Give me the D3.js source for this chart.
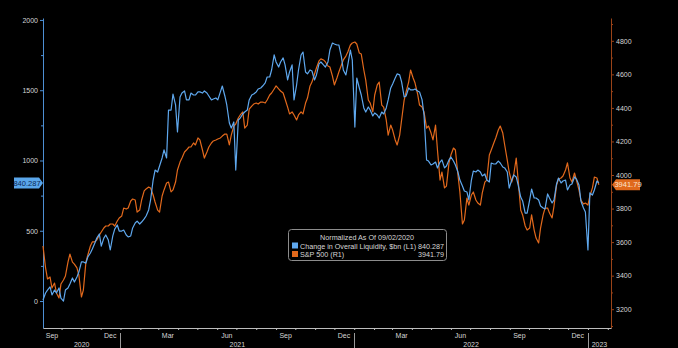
<!DOCTYPE html>
<html><head><meta charset="utf-8">
<script src="https://cdn.jsdelivr.net/npm/d3@7"></script>
<style>
html,body{margin:0;padding:0;background:#000;overflow:hidden;}
svg{display:block;}
text{font-family:"Liberation Sans",Arial,sans-serif;}
</style>
</head><body>
<svg id="c" width="678" height="348"></svg>
<script>
// ---------- data ----------
const startDate = new Date(2020, 8, 2);   // normalized as of 09/02/2020
const endDate = new Date(2023, 0, 19);
const axisEnd = new Date(2023, 1, 6);
// observations twice a week (Wednesdays and Sundays)
const obsDates = [...d3.timeWednesday.range(startDate, endDate), ...d3.timeSunday.range(startDate, endDate)]
  .sort((a, b) => a - b);

const liquidity = [
  7,57, 78,100, 43,78, 57,93, 21,0, 78,93, 121,164, 135,171, 206,278, 278,270,
  313,342, 370,413, 448,477, 391,448, 470,434, 363,463, 512,541, 498,498, 505,470, 456,463,
  520,555, 569,548, 562,584, 605,648, 719,861, 932,918, 961,1018, 1075,1018, 1359,1359, 1473,1395,
  1203,1452, 1480,1495, 1431,1431, 1480,1466, 1466,1488, 1488,1480, 1495,1480, 1459,1431, 1438,1445, 1431,1488,
  1530,1459, 1395,1267, 1231,1274, 932,1288, 1302,1331, 1345,1359, 1431,1466, 1473,1488, 1509,1516, 1530,1552,
  1594,1594, 1644,1751, 1701,1665, 1701,1730, 1680,1573, 1630,1680, 1431,1537, 1644,1751, 1772,1630, 1616,1644,
  1637,1573, 1609,1687, 1701,1680, 1665,1701, 1786,1836, 1829,1822, 1822,1737, 1644,1609, 1680,1786, 1715,1238,
  1587,1516, 1466,1374, 1345,1381, 1359,1317, 1338,1324, 1302,1345, 1331,1374, 1431,1516, 1544,1587, 1616,1609,
  1559,1452, 1459,1516, 1502,1502, 1509,1495, 1488,1431, 1324,1004, 996,968, 975,989, 947,989, 1004,947,
  961,1004, 1025,996, 968,918, 861,819, 783,776, 719,861, 925,918, 932,918, 890,904, 861,847,
  982,975, 975,996, 982,954, 947,918, 804,861, 897,883, 826,740, 712,626, 626,719, 797,733,
  733,719, 676,662, 655,762, 733,698, 719,833, 875,840, 854,861, 790,826, 833,883, 868,826,
  712,662, 633,363, 769,754, 790,854, 840.287
];
const spx = [
  3577,3446, 3380,3392, 3326,3356, 3297,3267, 3350,3374, 3398,3481, 3529,3481, 3469,3446, 3404,3273, 3314,3481,
  3523,3577, 3601,3601, 3613,3642, 3660,3684, 3696,3696, 3708,3708, 3696,3726, 3744,3756, 3803,3797, 3803,3845,
  3857,3851, 3779,3791, 3851,3905, 3917,3928, 3923,3881, 3839,3791, 3779,3875, 3911,3952, 3958,3899, 3911,3958,
  4030,4077, 4101,4137, 4149,4167, 4167,4191, 4179,4221, 4209,4149, 4101,4137, 4167,4191, 4203,4209, 4215,4221,
  4232,4244, 4244,4179, 4238,4292, 4304,4340, 4358,4376, 4280,4298, 4393,4411, 4423,4429, 4423,4435, 4435,4429,
  4447,4477, 4489,4513, 4531,4513, 4501,4489, 4453,4405, 4364,4376, 4358,4328, 4358,4376, 4364,4429, 4459,4531,
  4554,4602, 4638,4680, 4692,4686, 4674,4650, 4644,4590, 4537,4578, 4614,4656, 4686,4709, 4733,4775, 4787,4793,
  4781,4727, 4721,4626, 4566,4447, 4429,4376, 4477,4537, 4554,4417, 4405,4328, 4238,4298, 4268,4209, 4179,4238,
  4328,4447, 4495,4554, 4626,4578, 4548,4483, 4417,4405, 4376,4280, 4292,4250, 4209,4298, 4149,3970, 4018,3923,
  3934,4072, 4119,4161, 4149,4000, 3899,3708, 3732,3863, 3821,3881, 3899,3851, 3833,3821, 3893,3958, 3970,4119,
  4149,4191, 4221,4268, 4292,4250, 4179,4089, 4018,3958, 4000,4101, 3970,3791, 3762,3696, 3672,3684, 3762,3672,
  3624,3595, 3684,3762, 3803,3803, 3773,3744, 3815,3940, 3976,3982, 3994,4030, 4072,3982, 3958,4012, 3970,3911,
  3851,3827, 3833,3821, 3875,3923, 3988,3982, 3941.79
];
const liquidityLast = "840.287";
const spxLast = "3941.79";

const leftTicks = [0, 500, 1000, 1500, 2000];
const leftMinor = [250, 750, 1250, 1750];
const rightTicks = [3200, 3400, 3600, 3800, 4000, 4200, 4400, 4600, 4800];
const rightMinor = [3100, 3300, 3500, 3700, 3900, 4100, 4300, 4500, 4700, 4900];

const monthLabelText = ["Sep","Dec","Mar","Jun","Sep","Dec","Mar","Jun","Sep","Dec"];
const monthLabelDates = ["2020-09-16","2020-12-16","2021-03-16","2021-06-16","2021-09-16",
                         "2021-12-16","2022-03-16","2022-06-16","2022-09-16","2022-12-16"];
const yearText = ["2020","2021","2022","2023"];
const yearStarts = ["2021-01-01","2022-01-01","2023-01-01"];

const legendTitle = "Normalized As Of 09/02/2020";
const seriesNames = ["Change in Overall Liquidity, $bn (L1)", "S&P 500 (R1)"];

// ---------- style ----------
const BLUE = "#5fa8ee", ORANGE = "#e2691c";
const LEFT_AXIS = "#4d8fd4", RIGHT_AXIS = "#9a4318", TXT = "#d6d6d6";

// ---------- scales ----------
const svg = d3.select("#c");
const X0 = 43, X1 = 611, Y0 = 18, Y1 = 328;
const parse = d3.timeParse("%Y-%m-%d");
const x = d3.scaleTime().domain([startDate, axisEnd]).range([X0, X1]);
const yL = d3.scaleLinear().domain([-192, 2014]).range([Y1, Y0]);
const yR = d3.scaleLinear().domain([3088, 4936]).range([Y1, Y0]);

svg.append("rect").attr("width",678).attr("height",348).attr("fill","#000");

// ---------- axes ----------
function styleAxis(g, col, txtCol){
  g.select(".domain").attr("stroke", col).attr("stroke-width",1);
  g.selectAll(".tick line").attr("stroke", col);
  g.selectAll(".tick text").attr("fill", txtCol).attr("font-size","7px")
   .attr("font-family",'"Liberation Sans",Arial,sans-serif');
}
const gL = svg.append("g").attr("transform",`translate(${X0},0)`)
  .call(d3.axisLeft(yL).tickValues(leftTicks).tickSize(3).tickPadding(2).tickSizeOuter(0).tickFormat(d3.format("d")));
styleAxis(gL, LEFT_AXIS, TXT);
svg.append("g").attr("transform",`translate(${X0},0)`)
  .call(d3.axisLeft(yL).tickValues(leftMinor).tickSize(2).tickFormat(""))
  .call(g=>{g.select(".domain").remove(); g.selectAll("line").attr("stroke",LEFT_AXIS);});

const gR = svg.append("g").attr("transform",`translate(${X1},0)`)
  .call(d3.axisRight(yR).tickValues(rightTicks).tickSize(3).tickPadding(2).tickSizeOuter(0).tickFormat(d3.format("d")));
styleAxis(gR, RIGHT_AXIS, TXT);
svg.append("g").attr("transform",`translate(${X1},0)`)
  .call(d3.axisRight(yR).tickValues(rightMinor).tickSize(2).tickFormat(""))
  .call(g=>{g.select(".domain").remove(); g.selectAll("line").attr("stroke",RIGHT_AXIS);});

const monthStarts = d3.timeMonth.range(new Date(2020,9,1), axisEnd);
const gB = svg.append("g").attr("transform",`translate(0,${Y1})`)
  .call(d3.axisBottom(x).tickValues(monthStarts).tickSize(2).tickSizeOuter(0).tickFormat(""));
gB.select(".domain").attr("stroke","#bdbdbd");
gB.selectAll(".tick line").attr("stroke","#bdbdbd");

svg.append("g").selectAll("text").data(monthLabelText).join("text")
  .attr("x",(d,i)=>x(parse(monthLabelDates[i]))).attr("y",338)
  .attr("text-anchor","middle").attr("fill",TXT).attr("font-size","7px").text(d=>d);

const yb = [startDate, ...yearStarts.map(parse), axisEnd];
svg.append("g").selectAll("text").data(yearText).join("text")
  .attr("x",(d,i)=>(x(yb[i])+x(yb[i+1]))/2).attr("y",347)
  .attr("text-anchor","middle").attr("fill",TXT).attr("font-size","7px").text(d=>d);
svg.append("g").selectAll("line").data(yearStarts).join("line")
  .attr("x1",d=>Math.round(x(parse(d)))+0.5).attr("x2",d=>Math.round(x(parse(d)))+0.5)
  .attr("y1",333).attr("y2",348).attr("stroke","#9a9a9a");

// ---------- lines ----------
const lineR = d3.line().x((d,i)=>x(obsDates[i])).y(d=>yR(d));
const lineL = d3.line().x((d,i)=>x(obsDates[i])).y(d=>yL(d));
svg.append("path").datum(spx).attr("d",lineR).attr("fill","none")
  .attr("stroke",ORANGE).attr("stroke-width",1.2).attr("stroke-linejoin","round");
svg.append("path").datum(liquidity).attr("d",lineL).attr("fill","none")
  .attr("stroke",BLUE).attr("stroke-width",1.2).attr("stroke-linejoin","round");

// ---------- last value tags ----------
const lyL = yL(liquidity[liquidity.length-1]);
svg.append("path").attr("d",`M14,${lyL-5.5}H39L43,${lyL}L39,${lyL+5.5}H14Z`).attr("fill","#5aa6ea");
svg.append("text").attr("x",27).attr("y",lyL+2.6).attr("text-anchor","middle")
  .attr("font-size","7.5px").attr("fill","#0b2a55").text(liquidityLast);
const lyR = yR(spx[spx.length-1]);
svg.append("path").attr("d",`M612,${lyR}L616,${lyR-5.5}H640V${lyR+5.5}H616Z`).attr("fill","#e0691c");
svg.append("text").attr("x",628).attr("y",lyR+2.6).attr("text-anchor","middle")
  .attr("font-size","7.5px").attr("fill","#fbe3cf").text(spxLast);

// ---------- legend ----------
const lg = svg.append("g");
lg.append("rect").attr("x",288.5).attr("y",229.5).attr("width",158).attr("height",31)
  .attr("rx",3).attr("fill","#000").attr("stroke","#8c8c8c");
lg.append("text").attr("x",367).attr("y",240).attr("text-anchor","middle")
  .attr("fill",TXT).attr("font-size","7.2px").text(legendTitle);
const cols = [BLUE, ORANGE], vals = [liquidityLast, spxLast];
seriesNames.forEach((n,i)=>{
  const yy = 248.5 + i*8.5;
  lg.append("rect").attr("x",292).attr("y",yy-6).attr("width",6).attr("height",6).attr("fill",cols[i]);
  lg.append("text").attr("x",300).attr("y",yy).attr("fill",TXT).attr("font-size","7.2px").text(n);
  lg.append("text").attr("x",444).attr("y",yy).attr("text-anchor","end").attr("fill",TXT).attr("font-size","7.2px").text(vals[i]);
});
</script>
</body></html>
